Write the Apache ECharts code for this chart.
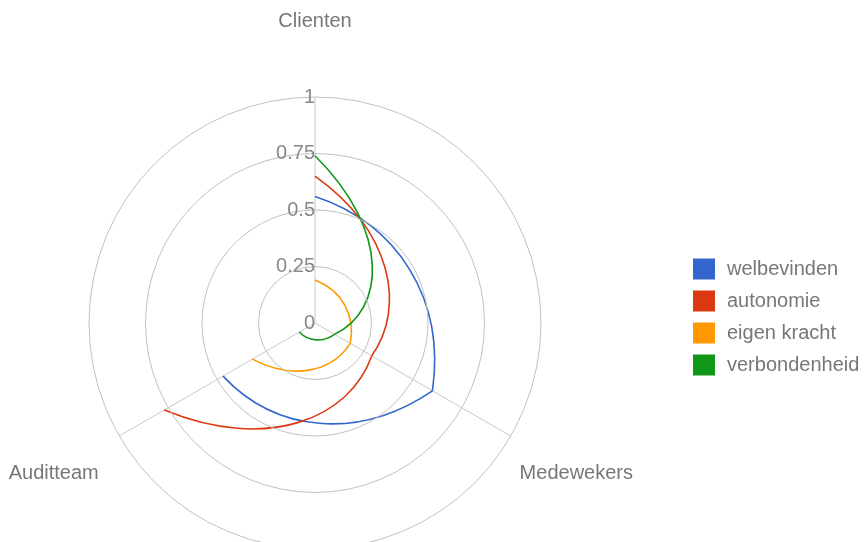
<!DOCTYPE html>
<html>
<head>
<meta charset="utf-8">
<script src="https://cdn.jsdelivr.net/npm/echarts@6/dist/echarts.min.js"></script>
<style>
  html, body { margin: 0; padding: 0; background: #ffffff; }
  #chart { width: 865px; height: 542px; }
</style>
</head>
<body>
<div id="chart"></div>
<script>
// Perspectives (spokes), clockwise from the top
const categories = ['Clienten', 'Medewekers', 'Auditteam'];

// Scores per theme, one value per perspective
const seriesNames = ['welbevinden', 'autonomie', 'eigen kracht', 'verbondenheid'];
const welbevinden   = [0.56, 0.60, 0.47];
const autonomie     = [0.65, 0.29, 0.77];
const eigenKracht   = [0.19, 0.18, 0.32];
const verbondenheid = [0.74, 0.10, 0.08];
const seriesValues = [welbevinden, autonomie, eigenKracht, verbondenheid];

// Radial scale
const radiusTicks = [0, 0.25, 0.5, 0.75, 1];

const palette = ['#3366cc', '#dc3912', '#ff9900', '#109618'];
const FONT = "'Liberation Sans', Arial, Helvetica, sans-serif";
const LABEL_RADIUS = 1.335; // perspective names sit just outside the outer ring

const chart = echarts.init(document.getElementById('chart'), null, { renderer: 'canvas' });

// Each segment between two spokes is a cubic Bezier whose control points are
// placed a third and two thirds of the way along in polar (angle, value) space.
function segmentRenderer(values, color) {
  return function (params, api) {
    const i = params.dataIndex;
    if (i >= values.length - 1) return null;
    const r0 = values[i], r1 = values[i + 1];
    const p0 = api.coord([r0, i]);
    const c1 = api.coord([r0 + (r1 - r0) / 3, i + 1 / 3]);
    const c2 = api.coord([r0 + 2 * (r1 - r0) / 3, i + 2 / 3]);
    const p1 = api.coord([r1, i + 1]);
    return {
      type: 'bezierCurve',
      shape: {
        x1: p0[0], y1: p0[1],
        cpx1: c1[0], cpy1: c1[1],
        cpx2: c2[0], cpy2: c2[1],
        x2: p1[0], y2: p1[1]
      },
      style: { stroke: color, fill: null, lineWidth: 1.6 }
    };
  };
}

const lineSeries = seriesNames.map(function (name, k) {
  return {
    name: name,
    type: 'custom',
    coordinateSystem: 'polar',
    itemStyle: { color: palette[k] },
    encode: { radius: 0, angle: 1 },
    data: seriesValues[k].map(function (v, i) { return [v, i]; }),
    renderItem: segmentRenderer(seriesValues[k], palette[k]),
    silent: true,
    z: 3
  };
});

const labelSeries = {
  name: 'perspectives',
  type: 'custom',
  coordinateSystem: 'polar',
  encode: { radius: 0, angle: 1 },
  data: categories.map(function (c, i) { return [LABEL_RADIUS, i]; }),
  renderItem: function (params, api) {
    const p = api.coord([api.value(0), api.value(1)]);
    return {
      type: 'text',
      x: p[0], y: p[1],
      style: {
        text: categories[params.dataIndex],
        fill: '#777777',
        font: '20px ' + FONT,
        align: 'center',
        verticalAlign: 'middle'
      }
    };
  },
  silent: true,
  z: 4
};

chart.setOption({
  animation: false,
  color: palette,
  textStyle: { fontFamily: FONT },
  polar: { center: [315, 323], radius: 226 },
  angleAxis: {
    type: 'value',
    min: 0,
    max: categories.length,
    interval: 1,
    startAngle: 90,
    clockwise: true,
    axisLine: { show: false },
    axisTick: { show: false },
    axisLabel: { show: false },
    splitLine: { show: true, lineStyle: { color: '#c8c8c8', width: 1 } }
  },
  radiusAxis: {
    type: 'value',
    min: radiusTicks[0],
    max: radiusTicks[radiusTicks.length - 1],
    interval: radiusTicks[1] - radiusTicks[0],
    axisLine: { show: false },
    axisTick: { show: false },
    axisLabel: {
      show: true,
      margin: 0,
      color: '#888888',
      fontSize: 20,
      fontFamily: FONT,
      padding: [2, 0, 0, 0],
      formatter: function (v) { return String(v); }
    },
    splitLine: { show: true, lineStyle: { color: '#c0c0c0', width: 1 } },
    z: 5
  },
  legend: {
    orient: 'vertical',
    left: 693,
    top: 258,
    padding: 0,
    icon: 'rect',
    itemWidth: 22,
    itemHeight: 21,
    itemGap: 10,
    data: seriesNames,
    selectedMode: false,
    textStyle: { color: '#777777', fontSize: 20, fontFamily: FONT, lineHeight: 22, padding: [0, 0, 0, 7] }
  },
  series: lineSeries.concat([labelSeries])
});
</script>
</body>
</html>
